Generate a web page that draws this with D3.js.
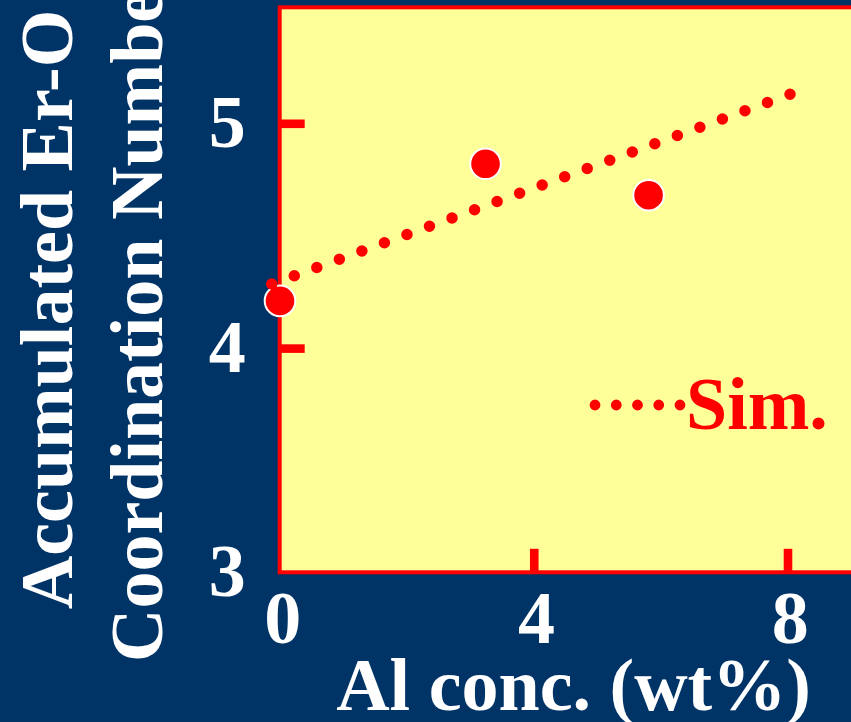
<!DOCTYPE html>
<html>
<head>
<meta charset="utf-8">
<script src="https://cdn.jsdelivr.net/npm/d3@7"></script>
<style>
  html, body { margin: 0; padding: 0; background: #003366; }
  svg { display: block; }
  text { font-family: "Liberation Serif", "Times New Roman", serif; font-weight: bold; }
</style>
</head>
<body>
<svg id="chart" width="851" height="722"></svg>
<script>
// ---- data ----
const alConc = [0, 3.24, 5.81];          // Al conc. (wt%)
const coordNum = [4.21, 4.82, 4.68];     // measured Er-O coordination number
const simX = [-0.13, 8.04];              // simulation line (Al conc.)
const simY = [4.285, 5.129];             // simulation line (coord. number)
const xTickValues = [0, 4, 8];
const yTickValues = [3, 4, 5];
const xLabel = "Al conc. (wt%)";
const yLabel1 = "Accumulated Er-O";
const yLabel2 = "Coordination Number";
const legendLabel = "Sim.";

// ---- layout ----
const W = 851, H = 722;
const navy = "#003366", plotFill = "#FFFF99", red = "#FF0000";
const svg = d3.select("#chart");

const x = d3.scaleLinear().domain([0, 8]).range([280, 787.5]);
const y = d3.scaleLinear().domain([3, 5]).range([572.9, 123.3]);
const yTop = 5.516;

svg.append("rect").attr("width", W).attr("height", H).attr("fill", navy);

// plot frame
const frameLeft = 279.7, frameTop = y(yTop), frameBottom = 572.3;
svg.append("rect")
  .attr("x", frameLeft).attr("y", frameTop)
  .attr("width", 700).attr("height", frameBottom - frameTop)
  .attr("fill", plotFill).attr("stroke", red).attr("stroke-width", 4);

// axes
const fontSize = 74;
const yAxis = svg.append("g").attr("transform", `translate(${frameLeft},0)`)
  .call(d3.axisLeft(y).tickValues(yTickValues).tickSize(-25).tickPadding(34).tickFormat(d3.format("d")));
const xAxis = svg.append("g").attr("transform", `translate(0,${frameBottom})`)
  .call(d3.axisBottom(x).tickValues(xTickValues).tickSize(-23.5).tickPadding(18).tickFormat(d3.format("d")));

[yAxis, xAxis].forEach(g => {
  g.select(".domain").remove();
  g.selectAll(".tick line").attr("stroke", red).attr("stroke-width", 8.6);
  g.selectAll(".tick text").attr("fill", "#fff").attr("font-size", fontSize)
    .style("font-family", '"Liberation Serif", "Times New Roman", serif').style("font-weight", "bold");
});
yAxis.selectAll(".tick").filter(d => d === 3).select("line").remove();
xAxis.selectAll(".tick").filter(d => d === 0).select("line").remove();
yAxis.selectAll(".tick text").attr("dy", "0.31em");
xAxis.selectAll(".tick text").attr("dx", "0.03em");

// measured points
svg.append("g").selectAll("circle")
  .data(alConc.map((v, i) => [v, coordNum[i]]))
  .join("circle")
  .attr("cx", d => x(d[0])).attr("cy", d => y(d[1]))
  .attr("r", 15.3).attr("fill", red).attr("stroke", "#fff").attr("stroke-width", 2);

// simulation dotted line
const simPath = svg.append("path")
  .datum(simX.map((v, i) => [v, simY[i]]))
  .attr("d", d3.line().x(d => x(d[0])).y(d => y(d[1])))
  .attr("fill", "none").attr("stroke", red).attr("stroke-width", 11.5)
  .attr("stroke-linecap", "round");
const len = simPath.node().getTotalLength();
const n = Math.round(len / 24);
simPath.attr("stroke-dasharray", `0,${len / n - 0.001}`);

// legend
const legend = svg.append("g");
legend.append("line")
  .attr("x1", 595).attr("x2", 681).attr("y1", 405).attr("y2", 405)
  .attr("stroke", red).attr("stroke-width", 10.8).attr("stroke-linecap", "round")
  .attr("stroke-dasharray", `0,21.25`);
legend.append("text").attr("x", 686).attr("y", 429).attr("fill", red)
  .attr("font-size", fontSize).text(legendLabel);

// axis titles
svg.append("text").attr("x", 573.5).attr("y", 710).attr("text-anchor", "middle")
  .attr("fill", "#fff").attr("font-size", fontSize).text(xLabel);
svg.append("text").attr("transform", "translate(71.5,309.5) rotate(-90)")
  .attr("text-anchor", "middle").attr("fill", "#fff").attr("font-size", fontSize).text(yLabel1);
svg.append("text").attr("transform", "translate(162,309.5) rotate(-90)")
  .attr("text-anchor", "middle").attr("fill", "#fff").attr("font-size", fontSize).text(yLabel2);
</script>
</body>
</html>
